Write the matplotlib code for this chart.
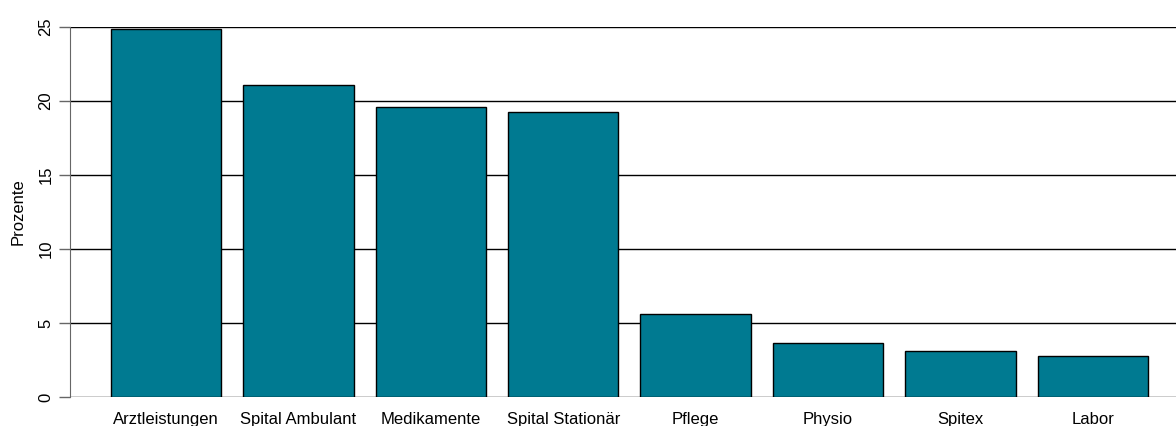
import numpy as np
import matplotlib
matplotlib.use("Agg")
import matplotlib.pyplot as plt

# Kostenanteile (in Prozent)
kategorien = ["Arztleistungen", "Spital Ambulant", "Medikamente", "Spital Stationär",
              "Pflege", "Physio", "Spitex", "Labor"]
prozente = [24.85, 21.1, 19.6, 19.27, 5.62, 3.67, 3.1, 2.78]
yticks = [0, 5, 10, 15, 20, 25]

plt.rcParams['font.family'] = ['Liberation Sans', 'DejaVu Sans']

fig = plt.figure(figsize=(11.76, 4.26), dpi=100)
W, H = 1176, 426
ax = fig.add_axes([70 / W, 29 / H, (W - 70) / W, 370 / H])

# R-Barplot Stil: Breite 1, Abstand 0.2
x = 0.2 + np.arange(len(kategorien)) * 1.2 + 0.5

for y in yticks:
    ax.axhline(y, color='black', linewidth=1, zorder=1)

ax.bar(x, prozente, width=1, color='#007A91', edgecolor='black', linewidth=1, zorder=2)

ax.set_xlim(-0.172, 9.855)
ax.set_ylim(0, 25)
ax.set_yticks(yticks)
ax.set_yticklabels([str(v) for v in yticks], rotation=90, va='center', fontsize=12)
ax.tick_params(axis='y', length=8, color='#666666', width=1, pad=4)
ax.set_xticks(x)
ax.set_xticklabels(kategorien, fontsize=12)
ax.tick_params(axis='x', length=0, pad=11)

for s in ['top', 'right', 'bottom']:
    ax.spines[s].set_visible(False)
ax.spines['left'].set_color('#666666')

ax.set_ylabel("Prozente", fontsize=12)
ax.yaxis.set_label_coords(-44 / 1106, 0.5)

fig.savefig("out.png", dpi=100)
